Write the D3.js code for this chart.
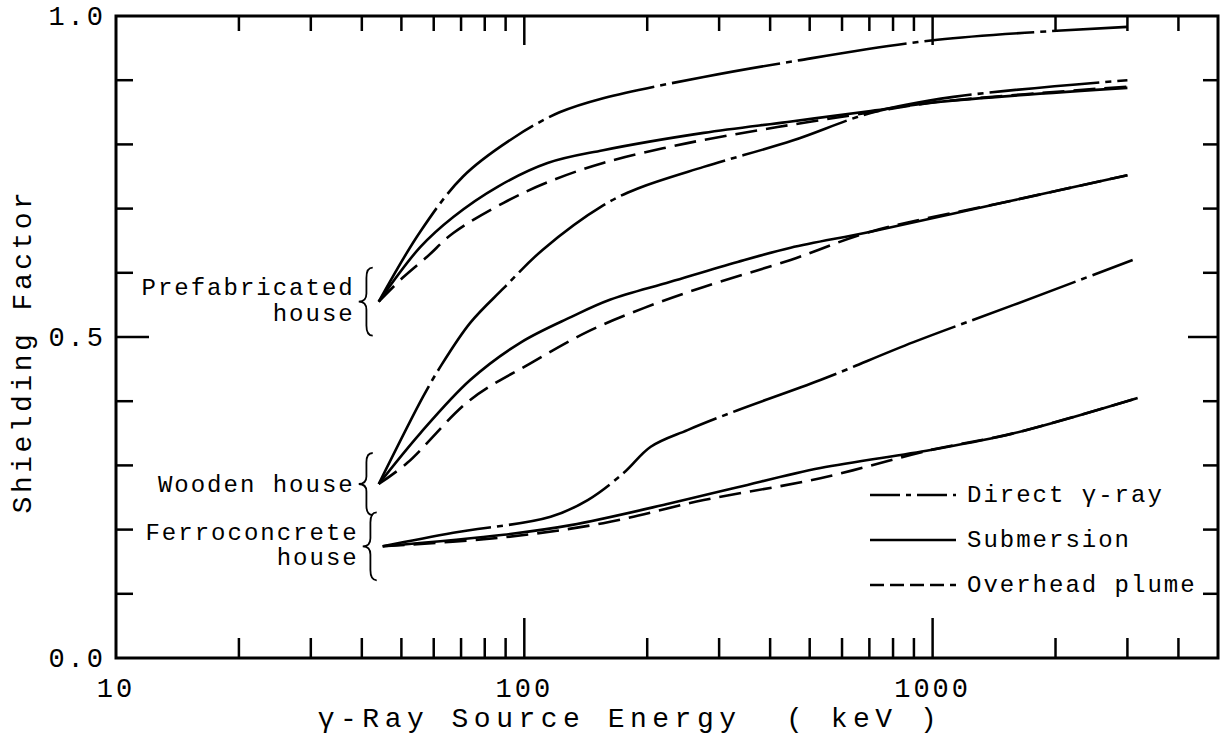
<!DOCTYPE html>
<html>
<head>
<meta charset="utf-8">
<script src="https://cdn.jsdelivr.net/npm/d3@7"></script>
<style>
  body { margin: 0; background: #fff; }
  svg text { font-family: "Liberation Mono", "Courier New", monospace; fill: #000; }
</style>
</head>
<body>
<div id="chart"></div>
<script>
// valores: [energia keV, fator de blindagem]
const prefabDirect = [[44,0.555],[55.6,0.664],[70.8,0.750],[94,0.810],[122,0.850],[156,0.872],[275,0.905],[441,0.928],[1028,0.963],[3000,0.983]];
const prefabSubmersion = [[44,0.555],[55.6,0.640],[67,0.687],[86,0.734],[114,0.771],[156,0.791],[275,0.818],[441,0.835],[705,0.852],[1028,0.866],[3000,0.888]];
const prefabOverhead = [[44,0.555],[50.5,0.593],[57.8,0.625],[67,0.662],[89,0.709],[114,0.741],[156,0.771],[251,0.802],[417,0.827],[705,0.850],[1028,0.866],[3000,0.890]];

const woodenDirect = [[44,0.271],[56.5,0.407],[62.2,0.453],[73.7,0.522],[89,0.576],[111,0.636],[156,0.705],[189,0.731],[275,0.765],[454,0.806],[705,0.849],[1125,0.874],[3000,0.900]];
const woodenSubmersion = [[44,0.271],[55.6,0.350],[73.7,0.433],[97.7,0.491],[130,0.531],[162,0.558],[228,0.586],[333,0.617],[449,0.639],[705,0.664],[1580,0.713],[3000,0.752]];
const woodenOverhead = [[44,0.271],[51.7,0.304],[73.7,0.402],[103.5,0.459],[142.6,0.508],[196,0.545],[275,0.578],[449,0.620],[705,0.664],[1580,0.713],[3000,0.752]];

const ferroDirect = [[45,0.174],[67,0.195],[116,0.220],[143,0.246],[175,0.288],[204,0.329],[251,0.355],[333,0.386],[531,0.433],[898,0.492],[1580,0.550],[3090,0.620]];
const ferroSubmersion = [[45,0.174],[89,0.192],[130,0.207],[228,0.241],[333,0.266],[531,0.296],[989,0.324],[1580,0.350],[3178,0.405]];
const ferroOverhead = [[45,0.174],[89,0.188],[156,0.210],[275,0.246],[531,0.280],[989,0.324],[1580,0.350],[3178,0.405]];

const xMajorTicks = [100, 1000];
const xMinorTicks = [20,30,40,50,60,70,80,90,200,300,400,500,600,700,800,900,2000,3000,4000];
const xTickLabels = [10, 100, 1000];
const yTicks = [0.1,0.2,0.3,0.4,0.5,0.6,0.7,0.8,0.9];
const yTickLabels = [0.0, 0.5, 1.0];

const houseLabels = [
  { lines: ["Prefabricated", "house"], start: prefabDirect[0], lineGap: 26 },
  { lines: ["Wooden house"], start: woodenDirect[0], lineGap: 0 },
  { lines: ["Ferroconcrete", "house"], start: ferroDirect[0], lineGap: 25 }
];
const legendItems = ["Direct γ-ray", "Submersion", "Overhead plume"];

// estilos dos tipos de linha
const estilos = {
  "Direct γ-ray": { curve: "110,6,6,6", legend: "30,6,5,6" },
  "Submersion": { curve: null, legend: null },
  "Overhead plume": { curve: "22,9", legend: "14,6" }
};

const series = [
  { tipo: "Direct γ-ray", pts: prefabDirect },
  { tipo: "Submersion", pts: prefabSubmersion },
  { tipo: "Overhead plume", pts: prefabOverhead },
  { tipo: "Direct γ-ray", pts: woodenDirect },
  { tipo: "Submersion", pts: woodenSubmersion },
  { tipo: "Overhead plume", pts: woodenOverhead },
  { tipo: "Direct γ-ray", pts: ferroDirect },
  { tipo: "Submersion", pts: ferroSubmersion },
  { tipo: "Overhead plume", pts: ferroOverhead }
];

const W = 1223, H = 746;
const margem = { left: 116, right: 1218, top: 16, bottom: 658 };

const svg = d3.select("#chart").append("svg")
  .attr("width", W).attr("height", H);

const x = d3.scaleLog().domain([10, 5000]).range([margem.left, margem.right]);
const y = d3.scaleLinear().domain([0, 1]).range([margem.bottom, margem.top]);

// moldura
svg.append("rect")
  .attr("x", margem.left).attr("y", margem.top)
  .attr("width", margem.right - margem.left).attr("height", margem.bottom - margem.top)
  .attr("fill", "none").attr("stroke", "#000").attr("stroke-width", 3);

// ticks do eixo x (para dentro)
function ticksX(vals, y0, len) {
  svg.append("g").selectAll("line").data(vals).join("line")
    .attr("x1", d => x(d)).attr("x2", d => x(d))
    .attr("y1", y0).attr("y2", y0 + len)
    .attr("stroke", "#000").attr("stroke-width", 2.5);
}
ticksX(xMinorTicks, margem.bottom, -20);
ticksX(xMajorTicks, margem.bottom, -40);
ticksX(xMinorTicks, margem.top, 15);
ticksX(xMajorTicks, margem.top, 29);

function ticksY(vals, x0, lenFn) {
  svg.append("g").selectAll("line").data(vals).join("line")
    .attr("y1", d => y(d)).attr("y2", d => y(d))
    .attr("x1", x0).attr("x2", d => x0 + lenFn(d))
    .attr("stroke", "#000").attr("stroke-width", 2.5);
}
ticksY(yTicks, margem.left, d => d === 0.5 ? 33 : 17);
ticksY(yTicks, margem.right, d => d === 0.5 ? -30 : -15);

// rótulos
svg.append("g").selectAll("text").data(xTickLabels).join("text")
  .attr("x", d => x(d)).attr("y", 697)
  .attr("text-anchor", "middle")
  .style("font-size", "27px").style("letter-spacing", "3px")
  .text(d => d);

svg.append("g").selectAll("text").data(yTickLabels).join("text")
  .attr("x", margem.left - 10).attr("y", d => y(d) + 9)
  .attr("text-anchor", "end")
  .style("font-size", "27px").style("letter-spacing", "3px")
  .text(d => d.toFixed(1));

svg.append("text")
  .attr("transform", `translate(31,${(margem.top + margem.bottom) / 2 + 14}) rotate(-90)`)
  .attr("text-anchor", "middle")
  .style("font-size", "28px").style("letter-spacing", "3.5px")
  .text("Shielding Factor");

svg.append("text")
  .attr("x", 630).attr("y", 727)
  .attr("text-anchor", "middle")
  .style("font-size", "28px").style("letter-spacing", "5.5px")
  .style("white-space", "pre")
  .text("γ-Ray Source Energy  ( keV )");

// curvas
const linha = d3.line()
  .x(d => x(d[0]))
  .y(d => y(d[1]))
  .curve(d3.curveCatmullRom.alpha(0.5));

svg.append("g").selectAll("path").data(series).join("path")
  .attr("d", d => linha(d.pts))
  .attr("fill", "none")
  .attr("stroke", "#000")
  .attr("stroke-width", 2.6)
  .attr("stroke-dasharray", d => estilos[d.tipo].curve);

// chaves e nomes das casas
function chave(xc, y1, y2, w) {
  const m = (y1 + y2) / 2, h = y2 - y1, xi = xc + w * 0.55;
  return `M${xc + w},${y1} Q${xi},${y1} ${xi},${y1 + h * 0.15} L${xi},${m - h * 0.12} ` +
    `Q${xi},${m} ${xc},${m} Q${xi},${m} ${xi},${m + h * 0.12} L${xi},${y2 - h * 0.15} ` +
    `Q${xi},${y2} ${xc + w},${y2}`;
}

houseLabels.forEach(h => {
  const yc = y(h.start[1]);
  const bx = x(h.start[0]) - 20;
  const half = h.lines.length > 1 ? 34 : 31;
  svg.append("path")
    .attr("d", chave(bx, yc - half, yc + half, 14))
    .attr("fill", "none").attr("stroke", "#000").attr("stroke-width", 1.8);
  const y0 = yc + 6 - h.lineGap / 2 + (h.lines.length > 1 ? 0 : 2);
  h.lines.forEach((t, i) => {
    svg.append("text")
      .attr("x", bx - 4).attr("y", y0 + i * h.lineGap)
      .attr("text-anchor", "end")
      .style("font-size", "24px").style("letter-spacing", "2px")
      .text(t);
  });
});

// legenda
const leg = svg.append("g").selectAll("g").data(legendItems).join("g")
  .attr("transform", (d, i) => `translate(870,${495 + i * 45})`);
leg.append("line")
  .attr("x1", 0).attr("x2", 86).attr("y1", 0).attr("y2", 0)
  .attr("stroke", "#000").attr("stroke-width", 2.6)
  .attr("stroke-dasharray", d => estilos[d].legend);
leg.append("text")
  .attr("x", 97).attr("y", 7)
  .style("font-size", "24px").style("letter-spacing", "2px")
  .text(d => d);
</script>
</body>
</html>
